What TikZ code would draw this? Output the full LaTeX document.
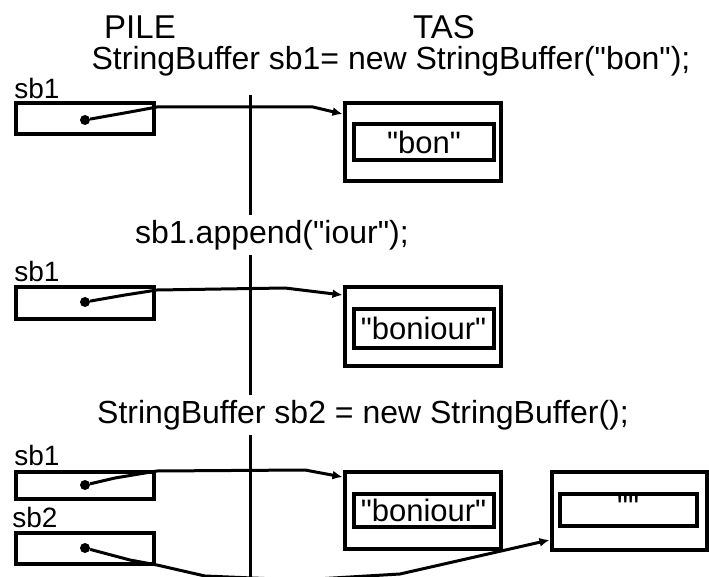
\documentclass[tikz,border=0pt]{standalone}
\usepackage{fontspec}
\setmainfont{Liberation Sans}[Ligatures=TeXOff]
\usetikzlibrary{arrows.meta}
\begin{document}
\begin{tikzpicture}[x=1pt,y=-1pt,
  varbox/.style={draw,line width=4pt,minimum width=138pt,inner sep=0pt},
  objbox/.style={draw,line width=4pt,minimum width=156pt,minimum height=77pt,inner sep=0pt},
  valbox/.style={draw,line width=4pt,minimum width=140pt,inner sep=0pt,font=\fontsize{31}{31}\selectfont},
  head/.style={inner sep=0pt,font=\fontsize{33}{33}\selectfont},
  stmt/.style={inner sep=0pt,font=\fontsize{32}{32}\selectfont},
  vlabel/.style={inner sep=0pt,font=\fontsize{28}{28}\selectfont},
  dot/.style={circle,fill=black,inner sep=0pt,minimum size=10pt},
  ref/.style={line width=3pt,-{Latex[length=10pt,width=9pt]}},
  sep/.style={line width=3pt}]
\useasboundingbox (0,0) rectangle (709,577);
\clip (0,0) rectangle (709,577);
% separator
\coordinate (vtop) at (250,95);
\coordinate (vbot) at (250,580);
\draw[sep] (vtop) -- (vbot);
% headers
\node[head,anchor=base] (pile) at (140,39) {PILE};
\node[head,anchor=base] (tas) at (444,39) {TAS};
% statements
\node[stmt] (s1) at (391,61) {StringBuffer sb1= new StringBuffer("bon");};
\node[stmt,fill=white,inner ysep=5pt] (s2) at (272,235) {sb1.append("iour");};
\node[stmt,fill=white,inner ysep=5pt] (s3) at (363,415) {StringBuffer sb2 = new StringBuffer();};
% stack variables
\node[vlabel] (l1) at (37,88) {sb1};
\node[varbox,minimum height=31pt] (v1) at (84.5,119) {};
\node[vlabel] (l2) at (37,271) {sb1};
\node[varbox,minimum height=32pt] (v2) at (84.5,302.5) {};
\node[vlabel] (l3) at (37,455) {sb1};
\node[varbox,minimum height=27pt] (v3) at (84.5,485) {};
\node[vlabel] (l4) at (35,517) {sb2};
\node[varbox,minimum height=31pt] (v4) at (84.5,548) {};
\node[dot] (d1) at (85,120) {};
\node[dot] (d2) at (85,302) {};
\node[dot] (d3) at (85,485) {};
\node[dot] (d4) at (85,548) {};
% heap objects
\node[objbox,minimum height=78pt] (o1) at (422.5,142.5) {};
\node[valbox,minimum height=36pt] (i1) at (424,142.5) {"bon"};
\node[objbox,minimum height=79pt] (o2) at (422.5,326) {};
\node[valbox,minimum height=39pt] (i2) at (423.5,328) {"boniour"};
\node[objbox] (o3) at (422.5,510) {};
\node[valbox,minimum height=33pt] (i3) at (423.5,510) {"boniour"};
\node[objbox,minimum width=155pt,minimum height=78pt] (o4) at (629,510.5) {};
\node[valbox,minimum width=137pt,minimum height=32pt] (i4) at (628,509.5) {};
\node[inner sep=0pt,anchor=north,font=\fontsize{31}{31}\selectfont] (q4) at (628,496) {""};
% references
\draw[ref] (d1) -- (130,112) -- (157,107) -- (313,107) -- (o1.west |- 0,114);
\draw[ref] (d2) -- (125,295) -- (157,290) -- (285,288) -- (o2.west |- 0,295);
\draw[ref] (d3) -- (115,478) -- (157,471) -- (305,470) -- (o3.west |- 0,477);
\draw[ref] (d4) -- (130,560) -- (157,565) -- (205,576) -- (300,580) -- (400,574) -- (o4.west |- 0,540);
\end{tikzpicture}
\end{document}
